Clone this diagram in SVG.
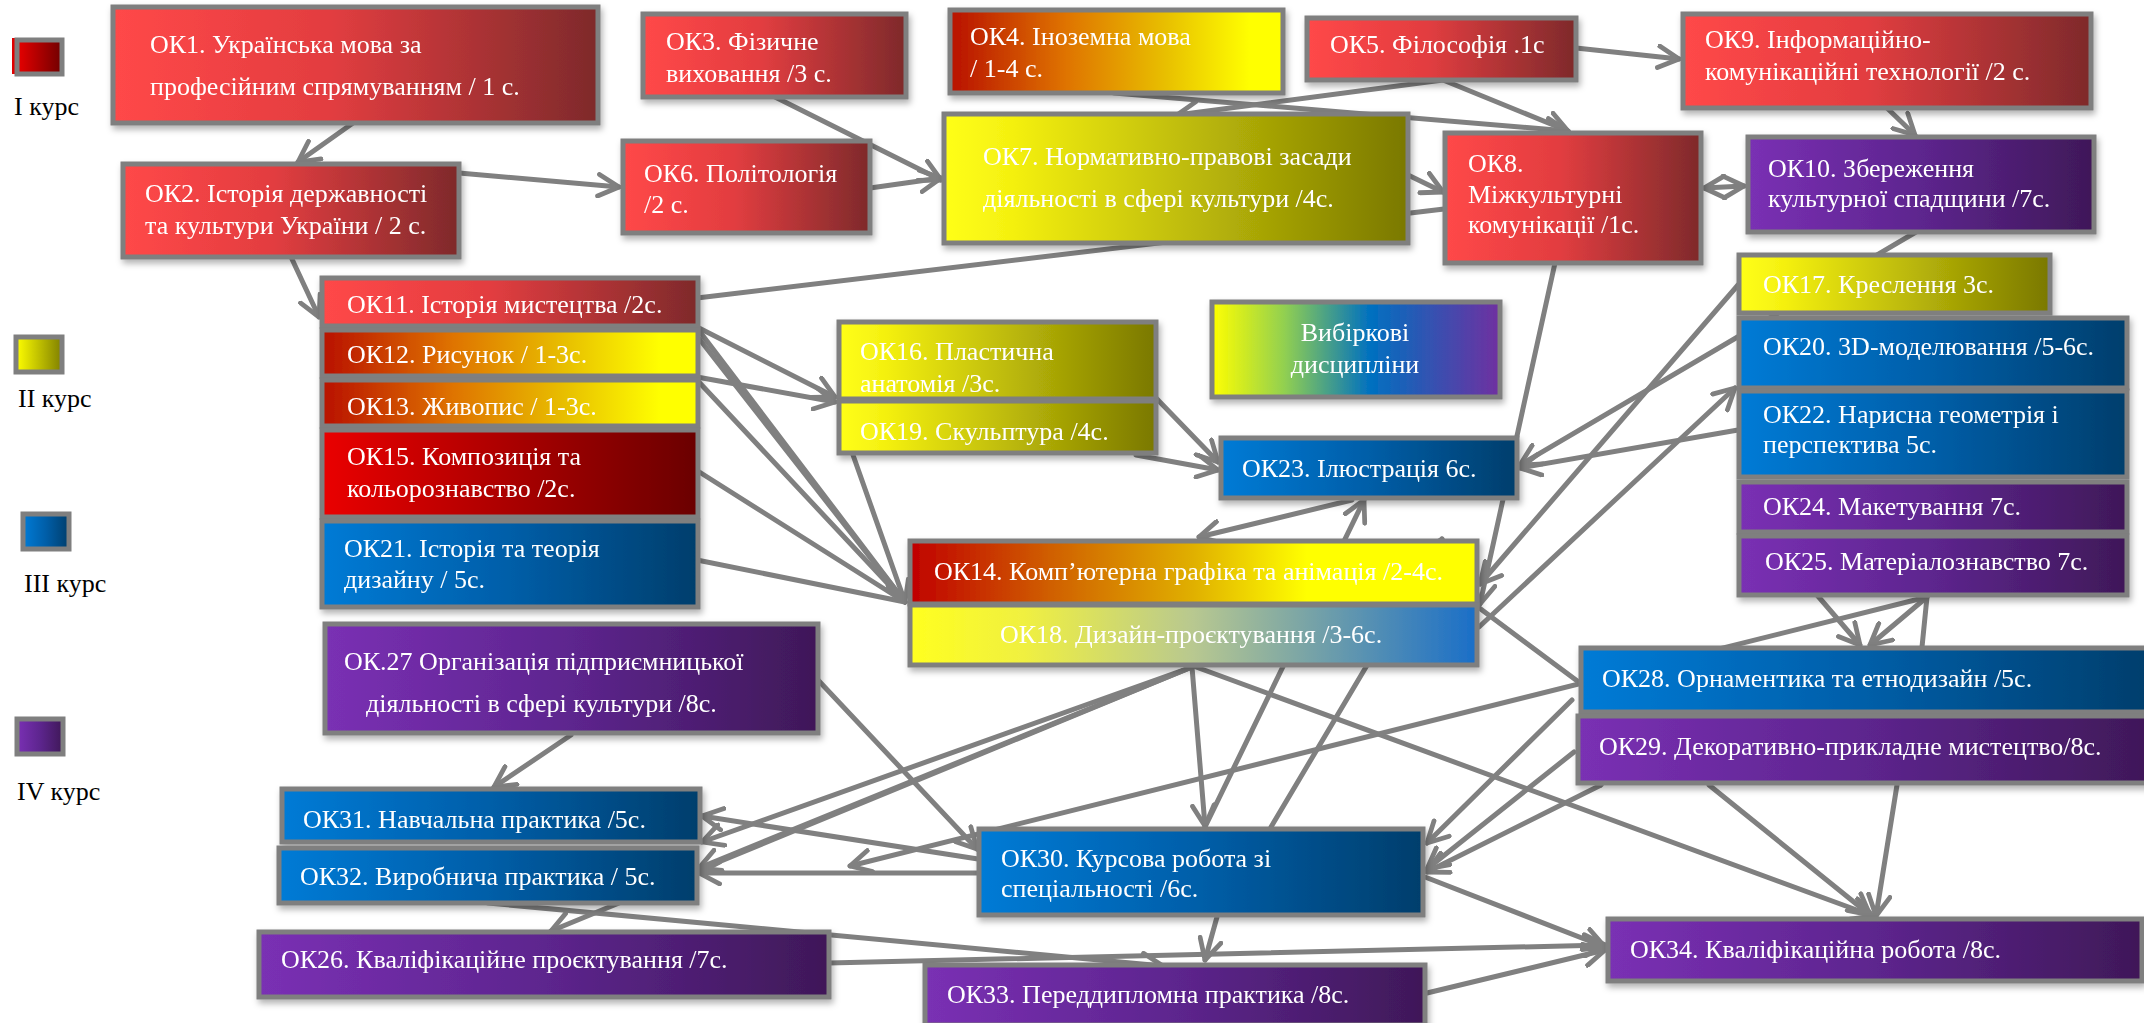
<svg xmlns="http://www.w3.org/2000/svg" width="2144" height="1023" viewBox="0 0 2144 1023">
<style>
.n{stroke:#7f7f7f;stroke-width:5}
.t{fill:#fff;font-family:"Liberation Serif","Times New Roman",serif;font-size:26px}
.lg{fill:#000;font-family:"Liberation Serif","Times New Roman",serif;font-size:26px}
.c{fill:none;stroke:#808080;stroke-width:5;stroke-linecap:round}
.a{marker-end:url(#ah)}
.b{marker-start:url(#ahs);marker-end:url(#ah)}
</style>
<defs>
<marker id="ah" viewBox="0 0 12 12" refX="10.5" refY="6" markerWidth="26" markerHeight="26" markerUnits="userSpaceOnUse" orient="auto">
<path d="M1,1 L10.5,6 L1,11" fill="none" stroke="#808080" stroke-width="2.2" stroke-linecap="round" stroke-linejoin="round"/>
</marker>
<marker id="ahs" viewBox="0 0 12 12" refX="1.5" refY="6" markerWidth="26" markerHeight="26" markerUnits="userSpaceOnUse" orient="auto">
<path d="M11,1 L1.5,6 L11,11" fill="none" stroke="#808080" stroke-width="2.2" stroke-linecap="round" stroke-linejoin="round"/>
</marker>
<filter id="sh" x="-5%" y="-10%" width="110%" height="130%">
<feDropShadow dx="2" dy="4" stdDeviation="3" flood-color="#000" flood-opacity="0.3"/>
</filter>
<linearGradient id="gRed"><stop offset="0" stop-color="#ff4848"/><stop offset="0.45" stop-color="#e23d40"/><stop offset="1" stop-color="#7e2a2b"/></linearGradient>
<linearGradient id="gRed2"><stop offset="0" stop-color="#ea0000"/><stop offset="1" stop-color="#6a0000"/></linearGradient>
<linearGradient id="gFire"><stop offset="0" stop-color="#b81000"/><stop offset="0.35" stop-color="#df7400"/><stop offset="0.65" stop-color="#e8c000"/><stop offset="0.9" stop-color="#ffff00"/><stop offset="1" stop-color="#ffff00"/></linearGradient>
<linearGradient id="gFire2"><stop offset="0" stop-color="#c00000"/><stop offset="0.25" stop-color="#d06000"/><stop offset="0.5" stop-color="#e0b000"/><stop offset="0.7" stop-color="#ffff00"/><stop offset="1" stop-color="#ffff00"/></linearGradient>
<linearGradient id="gOl"><stop offset="0" stop-color="#ffff18"/><stop offset="0.15" stop-color="#f4f010"/><stop offset="1" stop-color="#7a7800"/></linearGradient>
<linearGradient id="gBlue"><stop offset="0" stop-color="#007bd6"/><stop offset="0.5" stop-color="#005ea8"/><stop offset="1" stop-color="#003e6c"/></linearGradient>
<linearGradient id="gPur"><stop offset="0" stop-color="#7a30b4"/><stop offset="0.5" stop-color="#5d258e"/><stop offset="1" stop-color="#3f1858"/></linearGradient>
<linearGradient id="gYB"><stop offset="0" stop-color="#ffff20"/><stop offset="0.2" stop-color="#f0f040"/><stop offset="0.5" stop-color="#b8c890"/><stop offset="1" stop-color="#1a6ec8"/></linearGradient>
<linearGradient id="gVib"><stop offset="0" stop-color="#ffff00"/><stop offset="0.25" stop-color="#92d050"/><stop offset="0.55" stop-color="#0070c0"/><stop offset="1" stop-color="#7030a0"/></linearGradient>
<linearGradient id="lRed"><stop offset="0" stop-color="#e80000"/><stop offset="1" stop-color="#700000"/></linearGradient>
<linearGradient id="lYel"><stop offset="0" stop-color="#ffff00"/><stop offset="1" stop-color="#808000"/></linearGradient>
</defs>
<rect width="2144" height="1023" fill="#fff"/>

<g id="legend">
<rect x="12" y="38" width="44" height="36" fill="#e00000"/>
<rect x="17" y="40" width="45" height="34" fill="url(#lRed)" class="n"/>
<text class="lg" x="14" y="115">I  курс</text>
<rect x="16" y="337" width="46" height="35" fill="url(#lYel)" class="n"/>
<text class="lg" x="18" y="407">II курс</text>
<rect x="23" y="514" width="46" height="35" fill="url(#gBlue)" class="n"/>
<text class="lg" x="24" y="592">III курс</text>
<rect x="17" y="719" width="46" height="35" fill="url(#gPur)" class="n"/>
<text class="lg" x="17" y="800">IV курс</text>
</g>

<g id="connectors">
<path class="c a" d="M353,123 L298,162"/>
<path class="c a" d="M459,173 L619,187"/>
<path class="c a" d="M291,257 L319,317"/>
<path class="c a" d="M775,97 L941,180"/>
<path class="c a" d="M870,188 L941,178"/>
<path class="c a" d="M1443,80 L1177,115"/>
<path class="c a" d="M1114,93 L1568,131"/>
<path class="c a" d="M1443,80 L1568,131"/>
<path class="c a" d="M1576,48 L1679,59"/>
<path class="c a" d="M1887,108 L1915,135"/>
<path class="c a" d="M1408,175 L1443,192"/>
<path class="c" d="M697,298 L1444,209"/>
<path class="c b" d="M1704,188 L1744,186"/>
<path class="c a" d="M1916,232 L1520,465"/>
<path class="c a" d="M1555,263 L1480,604"/>
<path class="c a" d="M1738,285 L1480,584"/>
<path class="c a" d="M1738,430 L1520,468"/>
<path class="c a" d="M1479,627 L1735,388"/>
<path class="c a" d="M1156,398 L1218,462"/>
<path class="c a" d="M1136,455 L1218,470"/>
<path class="c a" d="M697,327 L835,397"/>
<path class="c a" d="M697,377 L835,402"/>
<path class="c" d="M697,328 L905,602"/>
<path class="c" d="M697,336 L905,602"/>
<path class="c" d="M697,380 L905,602"/>
<path class="c" d="M693,468 L905,602"/>
<path class="c" d="M697,560 L905,602"/>
<path class="c a" d="M853,455 L905,602"/>
<path class="c a" d="M1352,500 L1199,537"/>
<path class="c a" d="M1205,827 L1364,500"/>
<path class="c a" d="M1271,827 L1442,539"/>
<path class="c a" d="M1192,667 L1205,826"/>
<path class="c a" d="M1192,667 L702,842"/>
<path class="c a" d="M1192,667 L699,868"/>
<path class="c a" d="M1192,667 L551,931"/>
<path class="c a" d="M1196,667 L1873,916"/>
<path class="c" d="M1478,607 L1580,683"/>
<path class="c a" d="M818,680 L977,849"/>
<path class="c a" d="M571,735 L494,787"/>
<path class="c a" d="M978,859 L702,816"/>
<path class="c a" d="M978,873 L699,873"/>
<path class="c a" d="M1927,597 L850,866"/>
<path class="c a" d="M1817,595 L1860,645"/>
<path class="c a" d="M1927,597 L1870,645"/>
<path class="c" d="M1927,597 L1922,647"/>
<path class="c a" d="M1572,700 L1427,843"/>
<path class="c a" d="M1574,752 L1427,869"/>
<path class="c a" d="M1601,785 L1427,872"/>
<path class="c a" d="M1425,877 L1605,947"/>
<path class="c a" d="M1709,785 L1870,915"/>
<path class="c a" d="M1897,785 L1876,916"/>
<path class="c a" d="M1217,917 L1205,960"/>
<path class="c a" d="M1427,993 L1605,950"/>
<path class="c a" d="M829,963 L1605,945"/>
<path class="c a" d="M488,903 L1163,966"/>
</g>

<g id="nodes" filter="url(#sh)">
<g id="ok1"><rect x="113" y="7" width="485" height="116" fill="url(#gRed)" class="n"/>
<text class="t" x="150" y="53">ОК1. Українська мова за</text><text class="t" x="150" y="95">професійним спрямуванням / 1 с.</text></g>
<g id="ok2"><rect x="123" y="164" width="336" height="93" fill="url(#gRed)" class="n"/>
<text class="t" x="145" y="202">ОК2. Історія державності</text><text class="t" x="145" y="234">та культури України / 2 с.</text></g>
<g id="ok3"><rect x="643" y="14" width="263" height="83" fill="url(#gRed)" class="n"/>
<text class="t" x="666" y="50">ОК3. Фізичне</text><text class="t" x="666" y="82">виховання /3 с.</text></g>
<g id="ok4"><rect x="950" y="10" width="333" height="83" fill="url(#gFire)" class="n"/>
<text class="t" x="970" y="45">ОК4. Іноземна мова</text><text class="t" x="970" y="77">/ 1-4 с.</text></g>
<g id="ok5"><rect x="1307" y="18" width="269" height="62" fill="url(#gRed)" class="n"/>
<text class="t" x="1330" y="53">ОК5. Філософія .1с</text></g>
<g id="ok9"><rect x="1683" y="14" width="408" height="94" fill="url(#gRed)" class="n"/>
<text class="t" x="1705" y="48">ОК9. Інформаційно-</text><text class="t" x="1705" y="80">комунікаційні  технології /2 с.</text></g>
<g id="ok6"><rect x="623" y="141" width="247" height="92" fill="url(#gRed)" class="n"/>
<text class="t" x="644" y="182">ОК6. Політологія</text><text class="t" x="644" y="213">/2 с.</text></g>
<g id="ok7"><rect x="944" y="114" width="464" height="129" fill="url(#gOl)" class="n"/>
<text class="t" x="983" y="165">ОК7. Нормативно-правові засади</text><text class="t" x="983" y="207">діяльності в сфері культури /4с.</text></g>
<g id="ok8"><rect x="1445" y="133" width="256" height="130" fill="url(#gRed)" class="n"/>
<text class="t" x="1468" y="172">ОК8.</text><text class="t" x="1468" y="203">Міжкультурні</text><text class="t" x="1468" y="233">комунікації /1с.</text></g>
<g id="ok10"><rect x="1748" y="137" width="346" height="95" fill="url(#gPur)" class="n"/>
<text class="t" x="1768" y="177">ОК10. Збереження</text><text class="t" x="1768" y="207">культурної спадщини /7с.</text></g>

<g id="ok11"><rect x="322" y="278" width="376" height="48" fill="url(#gRed)" class="n"/>
<text class="t" x="347" y="313">ОК11. Історія мистецтва /2с.</text></g>
<g id="ok12"><rect x="322" y="330" width="376" height="46" fill="url(#gFire)" class="n"/>
<text class="t" x="347" y="363">ОК12. Рисунок / 1-3с.</text></g>
<g id="ok13"><rect x="322" y="380" width="376" height="46" fill="url(#gFire)" class="n"/>
<text class="t" x="347" y="415">ОК13. Живопис / 1-3с.</text></g>
<g id="ok15"><rect x="322" y="430" width="376" height="87" fill="url(#gRed2)" class="n"/>
<text class="t" x="347" y="465">ОК15. Композиція та</text><text class="t" x="347" y="497">кольорознавство  /2с.</text></g>
<g id="ok21"><rect x="322" y="521" width="376" height="86" fill="url(#gBlue)" class="n"/>
<text class="t" x="344" y="557">ОК21. Історія та теорія</text><text class="t" x="344" y="588">дизайну / 5с.</text></g>

<g id="ok16"><rect x="839" y="322" width="317" height="77" fill="url(#gOl)" class="n"/>
<text class="t" x="860" y="360">ОК16. Пластична</text><text class="t" x="860" y="392">анатомія /3с.</text></g>
<g id="ok19"><rect x="839" y="401" width="317" height="52" fill="url(#gOl)" class="n"/>
<text class="t" x="860" y="440">ОК19. Скульптура /4с.</text></g>
<g id="vybirkovi"><rect x="1212" y="302" width="288" height="95" fill="url(#gVib)" class="n"/>
<text class="t" x="1355" y="341" text-anchor="middle">Вибіркові</text><text class="t" x="1355" y="373" text-anchor="middle">дисципліни</text></g>
<g id="ok23"><rect x="1221" y="438" width="296" height="60" fill="url(#gBlue)" class="n"/>
<text class="t" x="1242" y="477">ОК23. Ілюстрація 6с.</text></g>

<g id="ok17"><rect x="1739" y="255" width="311" height="58" fill="url(#gOl)" class="n"/>
<text class="t" x="1763" y="293">ОК17. Креслення 3с.</text></g>
<g id="ok20"><rect x="1739" y="318" width="388" height="70" fill="url(#gBlue)" class="n"/>
<text class="t" x="1763" y="355">ОК20. 3D-моделювання /5-6с.</text></g>
<g id="ok22"><rect x="1739" y="391" width="388" height="86" fill="url(#gBlue)" class="n"/>
<text class="t" x="1763" y="423">ОК22. Нарисна геометрія і</text><text class="t" x="1763" y="453">перспектива 5с.</text></g>
<g id="ok24"><rect x="1739" y="482" width="388" height="50" fill="url(#gPur)" class="n"/>
<text class="t" x="1763" y="515">ОК24. Макетування 7с.</text></g>
<g id="ok25"><rect x="1739" y="536" width="388" height="59" fill="url(#gPur)" class="n"/>
<text class="t" x="1765" y="570">ОК25. Матеріалознавство  7с.</text></g>

<g id="ok14"><rect x="910" y="541" width="567" height="63" fill="url(#gFire2)" class="n"/>
<text class="t" x="934" y="580">ОК14. Комп’ютерна графіка та анімація /2-4с.</text></g>
<g id="ok18"><rect x="910" y="605" width="567" height="60" fill="url(#gYB)" class="n"/>
<text class="t" x="1000" y="643">ОК18. Дизайн-проєктування /3-6с.</text></g>

<g id="ok27"><rect x="325" y="624" width="493" height="109" fill="url(#gPur)" class="n"/>
<text class="t" x="344" y="670">ОК.27 Організація підприємницької</text><text class="t" x="366" y="712">діяльності в сфері культури /8с.</text></g>
<g id="ok28"><rect x="1581" y="648" width="570" height="64" fill="url(#gBlue)" class="n"/>
<text class="t" x="1602" y="687">ОК28. Орнаментика та етнодизайн /5с.</text></g>
<g id="ok29"><rect x="1578" y="716" width="573" height="67" fill="url(#gPur)" class="n"/>
<text class="t" x="1599" y="755">ОК29. Декоративно-прикладне мистецтво/8с.</text></g>
<g id="ok31"><rect x="282" y="789" width="418" height="53" fill="url(#gBlue)" class="n"/>
<text class="t" x="303" y="828">ОК31. Навчальна практика /5с.</text></g>
<g id="ok32"><rect x="279" y="848" width="418" height="55" fill="url(#gBlue)" class="n"/>
<text class="t" x="300" y="885">ОК32. Виробнича практика / 5с.</text></g>
<g id="ok30"><rect x="979" y="829" width="444" height="86" fill="url(#gBlue)" class="n"/>
<text class="t" x="1001" y="867">ОК30. Курсова робота зі</text><text class="t" x="1001" y="897">спеціальності /6с.</text></g>
<g id="ok26"><rect x="259" y="932" width="570" height="65" fill="url(#gPur)" class="n"/>
<text class="t" x="281" y="968">ОК26. Кваліфікаційне проєктування /7с.</text></g>
<g id="ok34"><rect x="1608" y="919" width="534" height="62" fill="url(#gPur)" class="n"/>
<text class="t" x="1630" y="958">ОК34. Кваліфікаційна робота /8с.</text></g>
<g id="ok33"><rect x="925" y="965" width="500" height="60" fill="url(#gPur)" class="n"/>
<text class="t" x="947" y="1003">ОК33. Переддипломна практика /8с.</text></g>
</g>
</svg>
